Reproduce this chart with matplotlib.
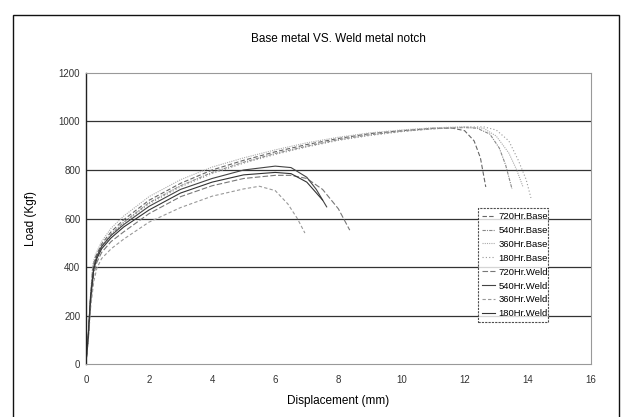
import matplotlib
matplotlib.use('Agg')
import matplotlib.pyplot as plt
from matplotlib.patches import Rectangle

# Base metal curves (displacement mm, load kgf)
base720_x = [0, 0.08, 0.15, 0.22, 0.3, 0.5, 0.8, 1.2, 2, 3, 4, 5, 6, 7, 8, 9, 10, 11, 11.6, 12.0, 12.3, 12.5, 12.67]
base720_y = [0, 120, 280, 400, 440, 495, 545, 595, 675, 745, 800, 840, 875, 905, 930, 950, 962, 972, 973, 962, 920, 850, 730]
base540_x = [0, 0.08, 0.15, 0.22, 0.3, 0.5, 0.8, 1.2, 2, 3, 4, 5, 6, 7, 8, 9, 10, 11, 12, 12.4, 12.8, 13.1, 13.3, 13.5]
base540_y = [0, 110, 260, 380, 430, 485, 535, 585, 665, 735, 790, 832, 868, 898, 925, 945, 960, 970, 975, 972, 948, 890, 820, 722]
base360_x = [0, 0.08, 0.15, 0.22, 0.3, 0.5, 0.8, 1.2, 2, 3, 4, 5, 6, 7, 8, 9, 10, 11, 12, 12.6, 13.0, 13.4, 13.65, 13.85]
base360_y = [0, 130, 290, 410, 450, 505, 560, 610, 690, 760, 812, 850, 883, 912, 935, 953, 965, 974, 978, 972, 940, 870, 800, 730]
base180_x = [0, 0.08, 0.15, 0.22, 0.3, 0.5, 0.8, 1.2, 2, 3, 4, 5, 6, 7, 8, 9, 10, 11, 12, 12.6, 13.0, 13.4, 13.7, 13.95, 14.1]
base180_y = [0, 100, 250, 370, 425, 480, 530, 580, 660, 730, 785, 828, 864, 895, 922, 942, 958, 970, 977, 978, 965, 920, 840, 760, 685]

# Weld metal curves
weld720_x = [0, 0.08, 0.15, 0.25, 0.35, 0.5, 0.8, 1.2, 2, 3, 4, 5, 6, 6.5, 7, 7.5, 8, 8.36]
weld720_y = [0, 110, 250, 370, 420, 460, 505, 545, 620, 690, 735, 765, 778, 778, 765, 720, 640, 552]
weld540_x = [0, 0.08, 0.15, 0.25, 0.35, 0.5, 0.8, 1.2, 2, 3, 4, 5, 6, 6.5, 7, 7.3, 7.63]
weld540_y = [0, 130, 280, 400, 445, 485, 530, 575, 650, 720, 765, 800, 816, 810, 770, 720, 648]
weld360_x = [0, 0.08, 0.15, 0.25, 0.35, 0.5, 0.8, 1.2, 2, 3, 4, 5, 5.5, 6, 6.4, 6.7, 6.94]
weld360_y = [0, 100, 230, 340, 395, 435, 475, 515, 585, 645, 692, 722, 733, 715, 660, 600, 540]
weld180_x = [0, 0.08, 0.15, 0.25, 0.35, 0.5, 0.8, 1.2, 2, 3, 4, 5, 6, 6.5, 7, 7.5]
weld180_y = [0, 120, 270, 390, 435, 475, 520, 565, 635, 705, 750, 780, 790, 785, 750, 676]

y_ticks = [0, 200, 400, 600, 800, 1000, 1200]
x_ticks = [0, 2, 4, 6, 8, 10, 12, 14, 16]

plt.rcParams['font.family'] = ['Liberation Sans Narrow', 'Liberation Sans', 'DejaVu Sans']

fig = plt.figure(figsize=(6.22, 4.17), dpi=100)
ax = fig.add_axes([0.138, 0.127, 0.812, 0.698])

# gridlines
for yv in y_ticks[1:-1]:
    ax.axhline(yv, color='#333333', linewidth=0.9, zorder=1)

ax.plot(base720_x, base720_y, color='#666666', linestyle=(0, (4, 2)), linewidth=0.8, label='720Hr.Base')
ax.plot(base540_x, base540_y, color='#888888', linestyle=(0, (3, 1, 1, 1)), linewidth=0.8, label='540Hr.Base')
ax.plot(base360_x, base360_y, color='#aaaaaa', linestyle=(0, (1, 1)), linewidth=0.8, label='360Hr.Base')
ax.plot(base180_x, base180_y, color='#999999', linestyle=(0, (1, 2)), linewidth=0.8, label='180Hr.Base')
ax.plot(weld720_x, weld720_y, color='#777777', linestyle=(0, (5, 2)), linewidth=0.8, label='720Hr.Weld')
ax.plot(weld540_x, weld540_y, color='#444444', linestyle='-', linewidth=0.8, label='540Hr.Weld')
ax.plot(weld360_x, weld360_y, color='#999999', linestyle=(0, (3, 2)), linewidth=0.8, label='360Hr.Weld')
ax.plot(weld180_x, weld180_y, color='#333333', linestyle='-', linewidth=0.8, label='180Hr.Weld')

ax.set_xlim(0, 16)
ax.set_ylim(0, 1200)
ax.set_xticks(x_ticks)
ax.set_yticks(y_ticks)
ax.tick_params(axis='both', length=0, labelsize=7, colors='#333333')
ax.tick_params(axis='x', pad=8)
ax.tick_params(axis='y', pad=4)

for side in ['top', 'right', 'bottom']:
    ax.spines[side].set_linestyle((0, (2, 1)))
    ax.spines[side].set_color('#999999')
    ax.spines[side].set_linewidth(0.8)
ax.spines['left'].set_color('#222222')
ax.spines['left'].set_linewidth(1.0)

ax.set_xlabel('Displacement (mm)', fontsize=8.5, labelpad=7)
ax.set_ylabel('Load (Kgf)', fontsize=8.5, labelpad=16)
ax.set_title('Base metal VS. Weld metal notch', fontsize=8.5, pad=22)

leg = ax.legend(loc='lower left', bbox_to_anchor=(0.776, 0.144, 0.139, 0.371), mode='expand',
                fontsize=6.8, frameon=True, fancybox=False, handlelength=1.4, handletextpad=0.4,
                borderpad=0.4, labelspacing=0.52, borderaxespad=0)
leg.get_frame().set_edgecolor('#222222')
leg.get_frame().set_linewidth(0.8)
leg.get_frame().set_linestyle((0, (2, 1)))

# outer frame of the chart
fig.patches.append(Rectangle((13 / 622, -0.01), (619 - 13) / 622, 1 - 15 / 417 + 0.01,
                             transform=fig.transFigure, fill=False, edgecolor='#111111', linewidth=1.0))

fig.savefig('out.png', dpi=100)
